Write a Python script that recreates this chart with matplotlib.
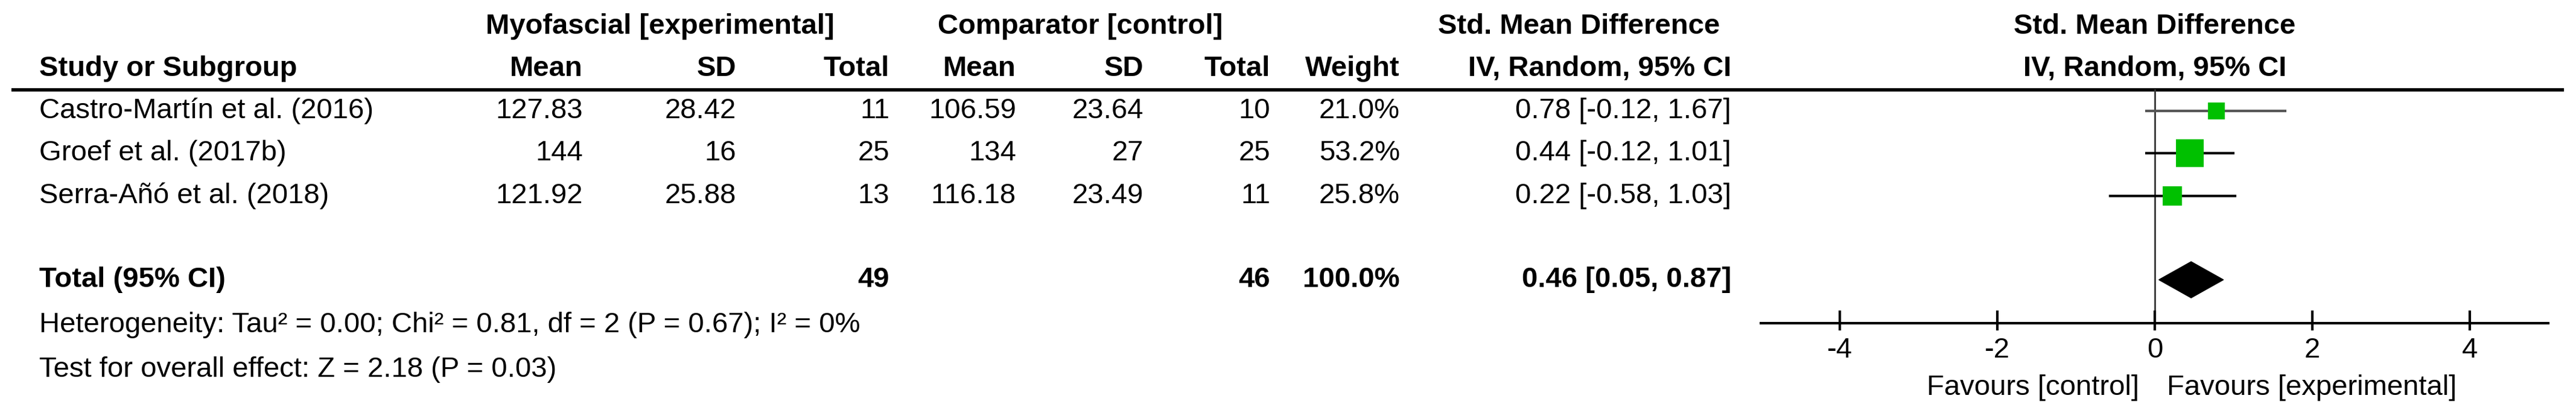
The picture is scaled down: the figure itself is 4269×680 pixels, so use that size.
import matplotlib
matplotlib.use("Agg")
import matplotlib.pyplot as plt

studies = ["Castro-Martín et al. (2016)", "Groef et al. (2017b)", "Serra-Añó et al. (2018)"]
exp_mean = ["127.83", "144", "121.92"]
exp_sd = ["28.42", "16", "25.88"]
exp_n = ["11", "25", "13"]
ctl_mean = ["106.59", "134", "116.18"]
ctl_sd = ["23.64", "27", "23.49"]
ctl_n = ["10", "25", "11"]
weights = [21.0, 53.2, 25.8]
smd = [0.78, 0.44, 0.22]
lo = [-0.12, -0.12, -0.58]
hi = [1.67, 1.01, 1.03]
total_smd, total_lo, total_hi = 0.46, 0.05, 0.87
total_exp, total_ctl = "49", "46"
ticks = [-4, -2, 0, 2, 4]

plt.rcParams["font.family"] = ["Liberation Sans", "DejaVu Sans"]
FS = 34

W, H = 4269, 680
fig = plt.figure(figsize=(W / 100, H / 100), dpi=100)
tx = fig.add_axes([0, 0, 1, 1])
tx.set_xlim(0, W)
tx.set_ylim(H, 0)
tx.axis("off")

# header
tx.text(1094, 44, "Myofascial [experimental]", ha="center", va="center", fontsize=FS, weight="bold")
tx.text(1790, 44, "Comparator [control]", ha="center", va="center", fontsize=FS, weight="bold")
tx.text(2850, 44, "Std. Mean Difference", ha="right", va="center", fontsize=FS, weight="bold")
tx.text(2869, 114, "IV, Random, 95% CI", ha="right", va="center", fontsize=FS, weight="bold")
tx.text(3571, 44, "Std. Mean Difference", ha="center", va="center", fontsize=FS, weight="bold")
tx.text(3571, 114, "IV, Random, 95% CI", ha="center", va="center", fontsize=FS, weight="bold")
tx.text(65, 114, "Study or Subgroup", ha="left", va="center", fontsize=FS, weight="bold")
cols = [966, 1220, 1474, 1684, 1895, 2105, 2320]
for x, lab in zip(cols, ["Mean", "SD", "Total", "Mean", "SD", "Total", "Weight"]):
    tx.text(x, 114, lab, ha="right", va="center", fontsize=FS, weight="bold")
tx.plot([19, 4249], [149, 149], color="black", lw=4, solid_capstyle="butt")

rows_y = [184, 254, 325]
for i, y in enumerate(rows_y):
    tx.text(65, y, studies[i], ha="left", va="center", fontsize=FS)
    vals = [exp_mean[i], exp_sd[i], exp_n[i], ctl_mean[i], ctl_sd[i], ctl_n[i], f"{weights[i]:.1f}%"]
    for x, v in zip(cols, vals):
        tx.text(x, y, v, ha="right", va="center", fontsize=FS)
    tx.text(2869, y, f"{smd[i]:.2f} [{lo[i]:.2f}, {hi[i]:.2f}]", ha="right", va="center", fontsize=FS)

ty = 464
tx.text(65, ty, "Total (95% CI)", ha="left", va="center", fontsize=FS, weight="bold")
tx.text(cols[2], ty, total_exp, ha="right", va="center", fontsize=FS, weight="bold")
tx.text(cols[5], ty, total_ctl, ha="right", va="center", fontsize=FS, weight="bold")
tx.text(cols[6], ty, "100.0%", ha="right", va="center", fontsize=FS, weight="bold")
tx.text(2869, ty, f"{total_smd:.2f} [{total_lo:.2f}, {total_hi:.2f}]", ha="right", va="center",
        fontsize=FS, weight="bold")
tx.text(65, 539, "Heterogeneity: Tau² = 0.00; Chi² = 0.81, df = 2 (P = 0.67); I² = 0%",
        ha="left", va="center", fontsize=FS)
tx.text(65, 613, "Test for overall effect: Z = 2.18 (P = 0.03)", ha="left", va="center", fontsize=FS)

# forest panel
fx = fig.add_axes([2916 / W, 0, (4225 - 2916) / W, 1])
fx.set_xlim(-5.02, 5.01)
fx.set_ylim(H, 0)
fx.axis("off")
fx.plot([0, 0], [149, 536], color="#333333", lw=2)
for i, y in enumerate(rows_y):
    c = "#555555" if i == 0 else "black"
    fx.plot([lo[i], hi[i]], [y, y], color=c, lw=3, solid_capstyle="butt")
    side = 6.2 * weights[i] ** 0.5
    fx.plot(smd[i], y, marker="s", color="#00C000", markersize=side * 0.72, markeredgewidth=0)
fx.fill([total_lo, total_smd, total_hi, total_smd], [ty, ty - 30, ty, ty + 30], color="black")
fx.plot([-5.02, 5.01], [536, 536], color="black", lw=3, solid_capstyle="butt")
for t in ticks:
    fx.plot([t, t], [517, 546], color="black", lw=3)
    fx.text(t, 581, str(t), ha="center", va="center", fontsize=FS)
fx.text(-0.2, 643, "Favours [control]", ha="right", va="center", fontsize=FS)
fx.text(0.15, 643, "Favours [experimental]", ha="left", va="center", fontsize=FS)

fig.savefig("out.png", dpi=100)
